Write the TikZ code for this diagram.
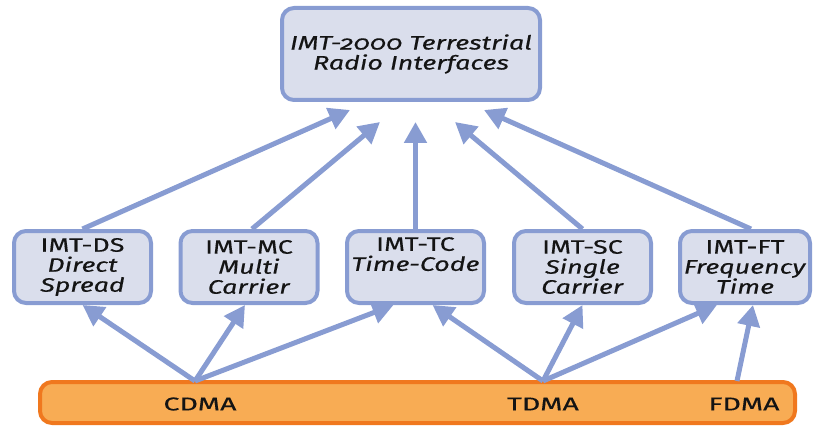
\documentclass[tikz,border=0pt]{standalone}
\usepackage{fontspec}
\setmainfont{Fira Sans}[Numbers=OldStyle, FakeStretch=1.38, FakeBold=0.3]
\newfontfamily\barfont{Fira Sans}[FakeStretch=1.55, FakeBold=0.3]
\usetikzlibrary{arrows.meta,calc}
\definecolor{boxfill}{RGB}{218,222,236}
\definecolor{boxline}{RGB}{136,156,210}
\definecolor{barfill}{RGB}{248,172,84}
\definecolor{barline}{RGB}{240,120,30}
\definecolor{txt}{RGB}{20,20,20}
\begin{document}
\begin{tikzpicture}[x=1pt,y=-1pt,
  topbox/.style={draw=boxline, fill=boxfill, line width=4pt, rounded corners=12pt,
    minimum width=258pt, minimum height=92pt, align=center, inner sep=0pt,
    font=\fontsize{19.5}{20}\selectfont\itshape, text=txt},
  imtbox/.style={draw=boxline, fill=boxfill, line width=4pt, rounded corners=12pt,
    minimum width=137pt, minimum height=72pt, align=center, inner sep=0pt,
    font=\fontsize{19.5}{20}\selectfont, text=txt},
  bar/.style={draw=barline, fill=barfill, line width=4pt, rounded corners=12pt,
    minimum width=755pt, minimum height=41pt, inner sep=0pt},
  bartext/.style={font=\barfont\fontsize{18.5}{20}\selectfont, text=txt, inner sep=0pt},
  arr/.style={draw=boxline, line width=5pt, -{Triangle[length=21pt,width=22pt]}},
]
\useasboundingbox (0,0) rectangle (815,428);

\node[topbox] (top) at (411,54) {IMT-2000 Terrestrial\\Radio Interfaces};

\node[imtbox] (ds) at (82.5,267) {IMT-DS\\\textit{Direct}\\\textit{Spread}};
\node[imtbox] (mc) at (249,267) {IMT-MC\\\textit{Multi}\\\textit{Carrier}};
\node[imtbox] (tc) at (415.5,267) {IMT-TC\\\textit{Time-Code}\\\strut};
\node[imtbox] (sc) at (582.5,267) {IMT-SC\\\textit{Single}\\\textit{Carrier}};
\node[imtbox, minimum width=130pt] (ft) at (745,267) {IMT-FT\\\textit{Frequency}\\\textit{Time}};

\node[bar] (bar) at (417.5,402.5) {};
\node[bartext] (cdma) at (200,404) {CDMA};
\node[bartext] (tdma) at (543,404) {TDMA};
\node[bartext] (fdma) at (744,404) {FDMA};

\coordinate (cd) at (195,381);
\coordinate (td) at (543,381);
\coordinate (fd) at (737,381);

% bottom arrows
\draw[arr] (cd) -- (ds.south);
\draw[arr] (cd) -- ([xshift=-4pt]mc.south);
\draw[arr] (cd) -- ([xshift=-22pt]tc.south);
\draw[arr] (td) -- ([xshift=17pt]tc.south);
\draw[arr] (td) -- (sc.south);
\draw[arr] (td) -- ([xshift=-28pt]ft.south);
\draw[arr] (fd) -- ([xshift=8pt]ft.south);

% top arrows
\draw[arr] (ds.north) -- ($(top.south)+(-61,8)$);
\draw[arr] ([xshift=3pt]mc.north) -- ($(top.south)+(-31,20)$);
\draw[arr] (tc.north) -- ($(top.south -| tc.north)+(0,20)$);
\draw[arr] (sc.north) -- ($(top.south)+(44,20)$);
\draw[arr] ([xshift=6pt]ft.north) -- ($(top.south)+(73,8)$);
\end{tikzpicture}
\end{document}
